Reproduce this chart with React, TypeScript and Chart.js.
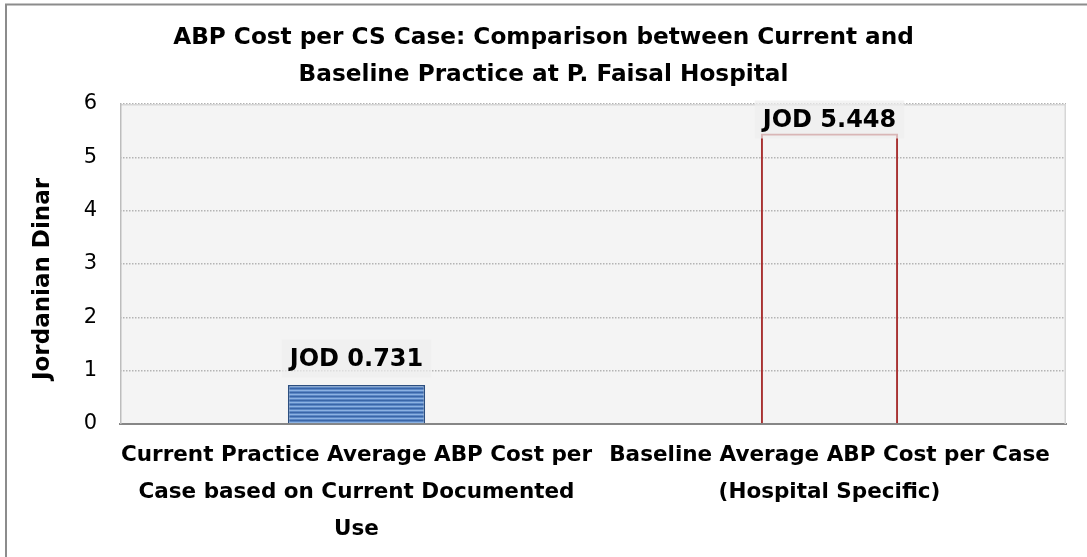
import React, { useEffect, useRef } from 'react';
import { Chart, registerables } from 'chart.js';

Chart.register(...registerables);

const titleLines: string[] = [
  'ABP Cost per CS Case: Comparison between Current and',
  'Baseline Practice at P. Faisal Hospital',
];
const categories: string[][] = [
  ['Current Practice Average ABP Cost per', 'Case based on Current Documented', 'Use'],
  ['Baseline Average ABP Cost per Case', '(Hospital Specific)'],
];
const values: number[] = [0.731, 5.448];
const dataLabels: string[] = ['JOD 0.731', 'JOD 5.448'];
const yAxisTitle = 'Jordanian Dinar';
const yMin = 0;
const yMax = 6;
const yStep = 1;

const FONT = "'DejaVu Sans', sans-serif";

function makeStripePattern(ctx: CanvasRenderingContext2D): CanvasPattern | string {
  const c = document.createElement('canvas');
  c.width = 8;
  c.height = 4;
  const p = c.getContext('2d');
  if (!p) return '#4f81bd';
  const rows = ['#3a66a8', '#5a87c5', '#8cb2e2', '#5a87c5'];
  rows.forEach((col, i) => {
    p.fillStyle = col;
    p.fillRect(0, i, 8, 1);
  });
  return ctx.createPattern(c, 'repeat') || '#4f81bd';
}

const framePlugin = {
  id: 'framePlugin',
  beforeDraw(chart: any) {
    const { ctx, chartArea: a } = chart;
    ctx.save();
    ctx.fillStyle = '#ffffff';
    ctx.fillRect(0, 0, chart.width, chart.height);
    ctx.strokeStyle = '#8c8c8c';
    ctx.lineWidth = 2;
    ctx.strokeRect(6, 4.5, chart.width + 40, chart.height + 40);
    ctx.fillStyle = '#f4f4f4';
    ctx.fillRect(a.left, a.top, a.width, a.height);
    ctx.restore();
  },
  beforeDatasetsDraw(chart: any) {
    const { ctx, chartArea: a } = chart;
    ctx.save();
    ctx.lineWidth = 1.5;
    ctx.strokeStyle = '#d6d6d6';
    ctx.beginPath();
    ctx.moveTo(a.left, a.top + 0.75);
    ctx.lineTo(a.right - 0.75, a.top + 0.75);
    ctx.lineTo(a.right - 0.75, a.bottom);
    ctx.stroke();
    ctx.strokeStyle = '#bdbdbd';
    ctx.beginPath();
    ctx.moveTo(a.left + 0.75, a.top);
    ctx.lineTo(a.left + 0.75, a.bottom);
    ctx.stroke();
    ctx.restore();
  },
  afterDatasetsDraw(chart: any) {
    const { ctx, chartArea: a } = chart;
    const meta = chart.getDatasetMeta(0);
    ctx.save();
    ctx.font = `bold 24px ${FONT}`;
    meta.data.forEach((bar: any, i: number) => {
      const text = dataLabels[i];
      const tw = ctx.measureText(text).width;
      let cy = bar.y - 26.5;
      cy = Math.max(cy, a.top + 15.5);
      const bw = tw + 16;
      const bh = 38;
      ctx.fillStyle = 'rgba(238,238,238,0.7)';
      ctx.fillRect(bar.x - bw / 2, cy - bh / 2, bw, bh);
      ctx.fillStyle = '#000000';
      ctx.textAlign = 'center';
      ctx.textBaseline = 'middle';
      ctx.fillText(text, bar.x, cy + 1);
    });
    ctx.restore();
  },
  afterDraw(chart: any) {
    const { ctx } = chart;
    ctx.save();
    ctx.translate(43, 279);
    ctx.rotate(-Math.PI / 2);
    ctx.font = `bold 23px ${FONT}`;
    ctx.fillStyle = '#000000';
    ctx.textAlign = 'center';
    ctx.textBaseline = 'middle';
    ctx.fillText(yAxisTitle, 0, 0);
    ctx.restore();
  },
};

export default function App() {
  const canvasRef = useRef<HTMLCanvasElement | null>(null);

  useEffect(() => {
    const canvas = canvasRef.current;
    if (!canvas) return;
    const ctx = canvas.getContext('2d');
    if (!ctx) return;
    const pattern = makeStripePattern(ctx);

    const chart = new Chart(ctx, {
      type: 'bar',
      data: {
        labels: categories as any,
        datasets: [
          {
            data: values,
            backgroundColor: [pattern as any, 'rgba(0,0,0,0)'],
            borderColor: ['#2c4f80', '#a83232'],
            borderWidth: [1.5, 2] as any,
            borderSkipped: 'start',
            barPercentage: 0.29,
            categoryPercentage: 1,
          },
        ],
      },
      options: {
        animation: false,
        responsive: true,
        maintainAspectRatio: false,
        layout: { padding: { left: 0, right: 0, top: 0, bottom: 0 } },
        plugins: {
          legend: { display: false },
          tooltip: { enabled: false },
          title: {
            display: true,
            text: titleLines,
            color: '#000000',
            font: { family: FONT, size: 23.2, weight: 'bold', lineHeight: '37px' } as any,
            padding: { top: 19.5, bottom: 10.5 },
          },
        },
        scales: {
          x: {
            grid: { display: false, drawTicks: false },
            border: { display: true, color: '#868686', width: 2 },
            ticks: {
              color: '#000000',
              font: { family: FONT, size: 21.5, weight: 'bold', lineHeight: '37px' } as any,
              padding: 12.5,
              maxRotation: 0,
              minRotation: 0,
              autoSkip: false,
            },
            afterFit: (s: any) => {
              s.height = 133;
            },
          },
          y: {
            min: yMin,
            max: yMax,
            ticks: {
              stepSize: yStep,
              color: '#000000',
              font: { family: FONT, size: 21 },
              padding: 23,
            },
            grid: {
              drawTicks: false,
              color: (c: any) => (c.tick && c.tick.value === 0 ? 'rgba(0,0,0,0)' : '#b4b4b4'),
              lineWidth: 1.5,
            },
            border: { display: false, dash: [1.5, 1.5] },
            afterFit: (s: any) => {
              s.width = 120;
            },
          },
          yRight: {
            position: 'right',
            min: yMin,
            max: yMax,
            ticks: { display: false },
            grid: { display: false, drawTicks: false },
            border: { display: false },
            afterFit: (s: any) => {
              s.width = 21;
            },
          },
        },
      },
      plugins: [framePlugin],
    });

    return () => {
      chart.destroy();
    };
  }, []);

  return (
    <div style={{ position: 'absolute', left: 0, top: 0, width: 1087, height: 557, background: '#fff' }}>
      <canvas ref={canvasRef} />
    </div>
  );
}
